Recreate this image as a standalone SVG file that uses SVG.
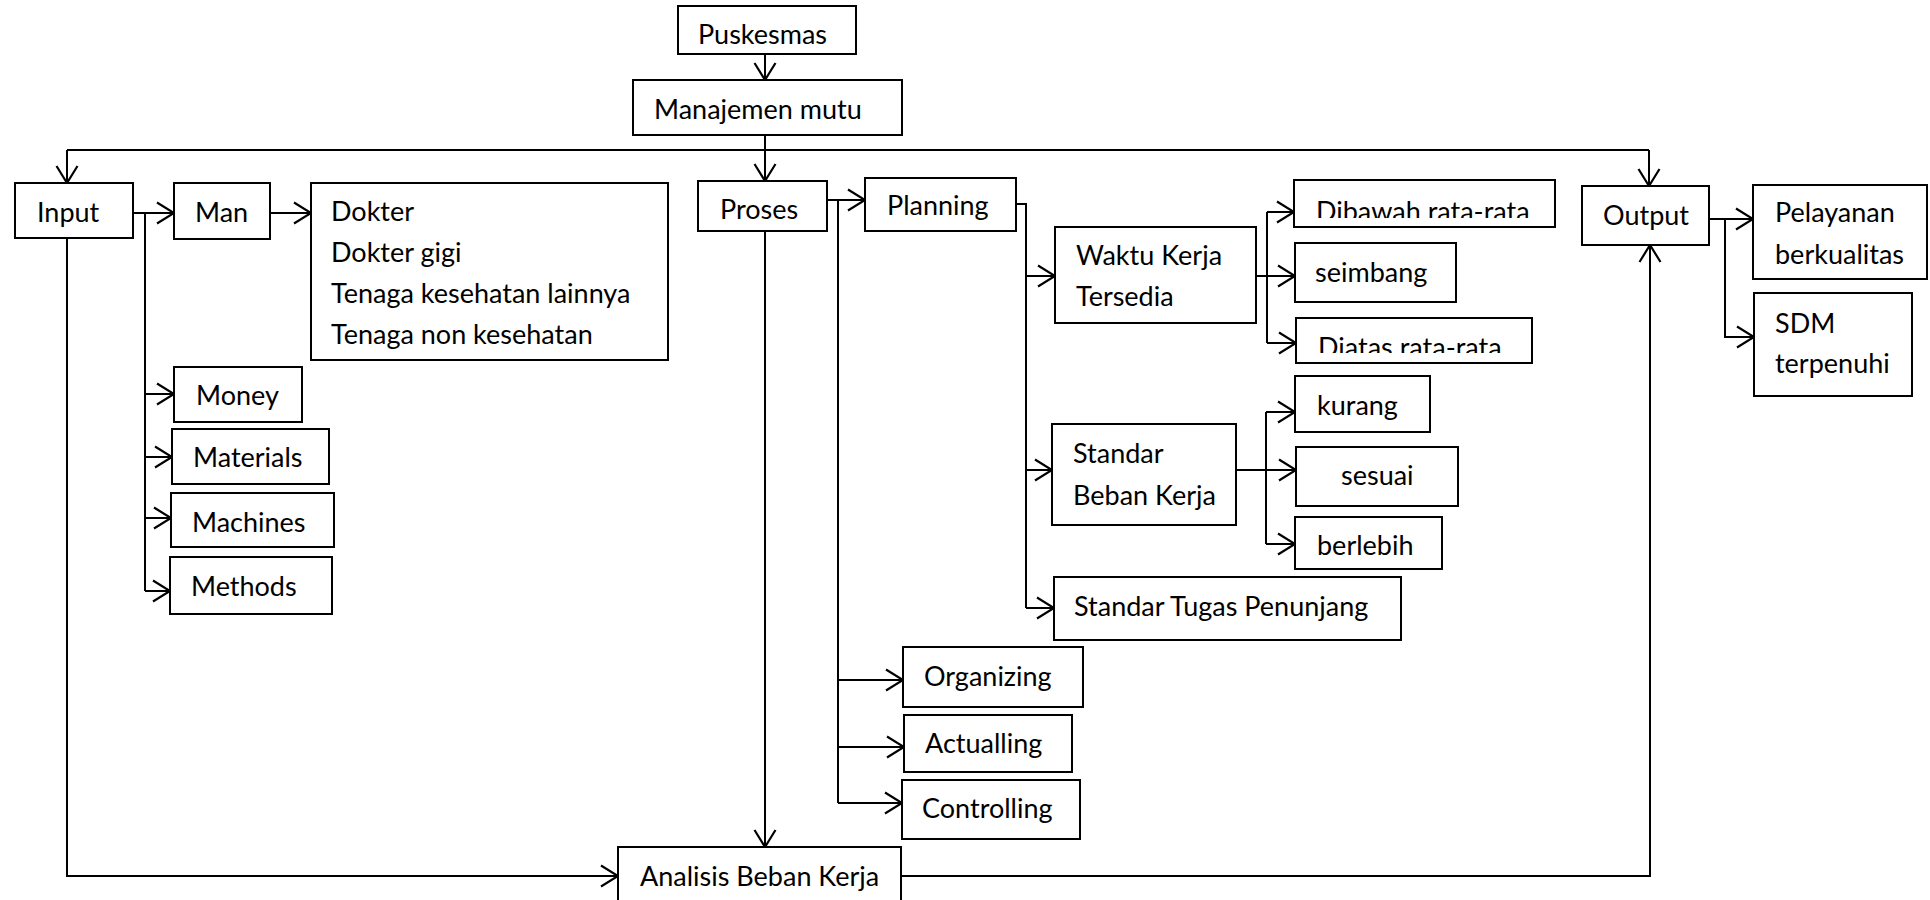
<svg xmlns="http://www.w3.org/2000/svg" width="1930" height="900" viewBox="0 0 1930 900">
<style>
.b{fill:#fff;stroke:#000;stroke-width:2}
.t{font-family:Lato,"Liberation Sans",sans-serif;font-size:27px;fill:#000}
.c{fill:none;stroke:#000;stroke-width:2}
</style>
<defs>
<marker id="a" viewBox="-20 -13 22 26" refX="0" refY="0" markerWidth="22" markerHeight="26" markerUnits="userSpaceOnUse" orient="auto">
<path d="M-17,-10.5 L0,0 L-17,10.5" fill="none" stroke="#000" stroke-width="2.2"/>
</marker>
<clipPath id="clipDibawah"><rect x="1294" y="180" width="261" height="38"/></clipPath>
<clipPath id="clipDiatas"><rect x="1296" y="318" width="236" height="35"/></clipPath>
</defs>
<rect width="1930" height="900" fill="#fff"/>
<g id="connectors">
<path class="c" d="M765,54 V80" marker-end="url(#a)"/>
<path class="c" d="M765,135 V181" marker-end="url(#a)"/>
<path class="c" d="M67,150 H1649"/>
<path class="c" d="M67,150 V183" marker-end="url(#a)"/>
<path class="c" d="M1649,150 V186" marker-end="url(#a)"/>
<path class="c" d="M133,213 H174" marker-end="url(#a)"/>
<path class="c" d="M270,213 H311" marker-end="url(#a)"/>
<path class="c" d="M145,213 V591"/>
<path class="c" d="M145,394 H174" marker-end="url(#a)"/>
<path class="c" d="M145,457 H172" marker-end="url(#a)"/>
<path class="c" d="M145,518 H171" marker-end="url(#a)"/>
<path class="c" d="M145,591 H170" marker-end="url(#a)"/>
<path class="c" d="M67,238 V876 H618" marker-end="url(#a)"/>
<path class="c" d="M827,200 H865" marker-end="url(#a)"/>
<path class="c" d="M765,231 V847" marker-end="url(#a)"/>
<path class="c" d="M838,200 V803"/>
<path class="c" d="M838,680 H903" marker-end="url(#a)"/>
<path class="c" d="M838,747 H904" marker-end="url(#a)"/>
<path class="c" d="M838,803 H902" marker-end="url(#a)"/>
<path class="c" d="M1016,204 H1026 V608"/>
<path class="c" d="M1026,276 H1055" marker-end="url(#a)"/>
<path class="c" d="M1026,470 H1052" marker-end="url(#a)"/>
<path class="c" d="M1026,608 H1054" marker-end="url(#a)"/>
<path class="c" d="M1256,276 H1267"/>
<path class="c" d="M1267,212 V343"/>
<path class="c" d="M1267,212 H1294" marker-end="url(#a)"/>
<path class="c" d="M1267,276 H1295" marker-end="url(#a)"/>
<path class="c" d="M1267,343 H1296" marker-end="url(#a)"/>
<path class="c" d="M1236,470 H1266"/>
<path class="c" d="M1266,412 V544"/>
<path class="c" d="M1266,412 H1295" marker-end="url(#a)"/>
<path class="c" d="M1266,470 H1296" marker-end="url(#a)"/>
<path class="c" d="M1266,544 H1295" marker-end="url(#a)"/>
<path class="c" d="M1709,219 H1753" marker-end="url(#a)"/>
<path class="c" d="M1725,219 V337 H1754" marker-end="url(#a)"/>
<path class="c" d="M901,876 H1650 V245" marker-end="url(#a)"/>
</g>
<g id="puskesmas"><rect class="b" x="678" y="6" width="178" height="48"/><text class="t" x="698" y="44">Puskesmas</text></g>
<g id="manajemen"><rect class="b" x="633" y="80" width="269" height="55"/><text class="t" x="654" y="119">Manajemen mutu</text></g>
<g id="input"><rect class="b" x="15" y="183" width="118" height="55"/><text class="t" x="37" y="222">Input</text></g>
<g id="man"><rect class="b" x="174" y="183" width="96" height="56"/><text class="t" x="195" y="222">Man</text></g>
<g id="sdm-list"><rect class="b" x="311" y="183" width="357" height="177"/>
<text class="t" x="331" y="221">Dokter</text>
<text class="t" x="331" y="262">Dokter gigi</text>
<text class="t" x="331" y="303">Tenaga kesehatan lainnya</text>
<text class="t" x="331" y="344">Tenaga non kesehatan</text></g>
<g id="money"><rect class="b" x="174" y="367" width="128" height="55"/><text class="t" x="196" y="405">Money</text></g>
<g id="materials"><rect class="b" x="172" y="429" width="157" height="55"/><text class="t" x="193" y="467">Materials</text></g>
<g id="machines"><rect class="b" x="171" y="493" width="163" height="54"/><text class="t" x="192" y="532">Machines</text></g>
<g id="methods"><rect class="b" x="170" y="557" width="162" height="57"/><text class="t" x="191" y="596">Methods</text></g>
<g id="proses"><rect class="b" x="698" y="181" width="129" height="50"/><text class="t" x="720" y="219">Proses</text></g>
<g id="planning"><rect class="b" x="865" y="178" width="151" height="53"/><text class="t" x="887" y="215">Planning</text></g>
<g id="waktu"><rect class="b" x="1055" y="227" width="201" height="96"/><text class="t" x="1076" y="265">Waktu Kerja</text><text class="t" x="1076" y="306">Tersedia</text></g>
<g id="dibawah"><rect class="b" x="1294" y="180" width="261" height="47"/><text class="t" x="1316" y="221" clip-path="url(#clipDibawah)">Dibawah rata-rata</text></g>
<g id="seimbang"><rect class="b" x="1295" y="243" width="161" height="59"/><text class="t" x="1315" y="282">seimbang</text></g>
<g id="diatas"><rect class="b" x="1296" y="318" width="236" height="45"/><text class="t" x="1318" y="357" clip-path="url(#clipDiatas)">Diatas rata-rata</text></g>
<g id="standar-beban"><rect class="b" x="1052" y="424" width="184" height="101"/><text class="t" x="1073" y="463">Standar</text><text class="t" x="1073" y="505">Beban Kerja</text></g>
<g id="kurang"><rect class="b" x="1295" y="376" width="135" height="56"/><text class="t" x="1317" y="415">kurang</text></g>
<g id="sesuai"><rect class="b" x="1296" y="447" width="162" height="59"/><text class="t" x="1341" y="485">sesuai</text></g>
<g id="berlebih"><rect class="b" x="1295" y="517" width="147" height="52"/><text class="t" x="1317" y="555">berlebih</text></g>
<g id="standar-tugas"><rect class="b" x="1054" y="577" width="347" height="63"/><text class="t" x="1074" y="616">Standar Tugas Penunjang</text></g>
<g id="organizing"><rect class="b" x="903" y="647" width="180" height="60"/><text class="t" x="924" y="686">Organizing</text></g>
<g id="actualling"><rect class="b" x="904" y="715" width="168" height="57"/><text class="t" x="925" y="753">Actualling</text></g>
<g id="controlling"><rect class="b" x="902" y="780" width="178" height="59"/><text class="t" x="922" y="818">Controlling</text></g>
<g id="analisis"><rect class="b" x="618" y="847" width="283" height="60"/><text class="t" x="640" y="886">Analisis Beban Kerja</text></g>
<g id="output"><rect class="b" x="1582" y="186" width="127" height="59"/><text class="t" x="1603" y="225">Output</text></g>
<g id="pelayanan"><rect class="b" x="1753" y="185" width="174" height="94"/><text class="t" x="1775" y="222">Pelayanan</text><text class="t" x="1775" y="264">berkualitas</text></g>
<g id="sdm"><rect class="b" x="1754" y="293" width="158" height="103"/><text class="t" x="1775" y="333">SDM</text><text class="t" x="1775" y="373">terpenuhi</text></g>
</svg>
